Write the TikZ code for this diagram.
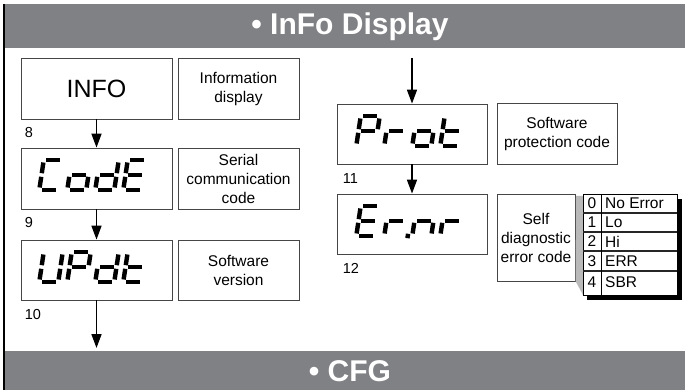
\documentclass[tikz,border=0pt]{standalone}
\usepackage{fontspec}
\setmainfont{Liberation Sans}
\usetikzlibrary{arrows.meta}
\definecolor{bandgray}{RGB}{128,129,133}
\definecolor{boxline}{RGB}{70,70,70}

% one slanted seven-segment character: centre x, centre y, list of segments
\newcommand{\segchar}[3]{%
  \begin{scope}[shift={({#1},{#2})}, xslant=0.15]
    \coordinate (a1) at (-7,-15);    \coordinate (a2) at (7,-15);
    \coordinate (b1) at (9.5,-12.5); \coordinate (b2) at (9.5,-1.8);
    \coordinate (c1) at (9.5,1.8);   \coordinate (c2) at (9.5,12.5);
    \coordinate (d1) at (-7,15);     \coordinate (d2) at (7,15);
    \coordinate (e1) at (-9.5,1.8);  \coordinate (e2) at (-9.5,12.5);
    \coordinate (f1) at (-9.5,-12.5);\coordinate (f2) at (-9.5,-1.8);
    \coordinate (g1) at (-7,0);      \coordinate (g2) at (7,0);
    \coordinate (p1) at (14,12.8);   \coordinate (p2) at (14,17.2);
    \edef\seglist{#3}
    \foreach \s in \seglist \draw[seg] (\s1) -- (\s2);
  \end{scope}}

\begin{document}
\begin{tikzpicture}[x=1pt,y=-1pt,
  box/.style={draw=boxline, line width=0.8pt, inner sep=1pt},
  dispbox/.style={box, minimum width=151pt, minimum height=61pt, font=\fontsize{25}{30}\selectfont},
  descbox/.style={box, minimum height=61pt, align=center, font=\fontsize{15.5}{19}\selectfont},
  numlabel/.style={anchor=west, inner sep=0pt, font=\fontsize{14.5}{17}\selectfont},
  flow/.style={-{Triangle[length=14pt,width=10pt]}, line width=1.6pt},
  seg/.style={line width=4.4pt, line cap=butt},
  bandtext/.style={text=white, font=\fontsize{30}{34}\selectfont\bfseries},
  tabtext/.style={inner sep=0pt, font=\fontsize{15.5}{18}\selectfont}]
\useasboundingbox (0,0) rectangle (685,390);

% bands and side rule
\fill[bandgray] (5,4) rectangle (685,48);
\fill[bandgray] (5,351) rectangle (685,390);
\draw[line width=2pt] (3.5,4) -- (3.5,390);
\node[bandtext] (title) at (350,27) {• InFo Display};
\node[bandtext] (cfg) at (350,371) {• CFG};

% left column
\node[dispbox] (info) at (96.5,88.5) {INFO};
\node[descbox, minimum width=121pt] (infotxt) at (238.5,88.5) {Information\\display};
\node[dispbox] (code) at (96.5,178.5) {};
\node[descbox, minimum width=121pt] (codetxt) at (238.5,178.5) {Serial\\communication\\code};
\node[dispbox, minimum height=60pt] (updt) at (96.5,270) {};
\node[descbox, minimum width=121pt, minimum height=60pt] (updttxt) at (238.5,270) {Software\\version};

\node[numlabel] (n8) at ([xshift=4pt,yshift=-13pt]info.south west) {8};
\node[numlabel] (n9) at ([xshift=4pt,yshift=-13pt]code.south west) {9};
\node[numlabel] (n10) at ([xshift=4pt,yshift=-14pt]updt.south west) {10};

\coordinate (cfgin) at (96.5,348);
\draw[flow] (info) -- (code);
\draw[flow] (code) -- (updt);
\draw[flow] (updt) -- (cfgin);

% right column
\node[dispbox, minimum width=150pt, minimum height=60pt] (prot) at (412,134) {};
\node[descbox, minimum width=120pt] (prottxt) at (557,134) {Software\\protection code};
\node[dispbox, minimum width=150pt, minimum height=60pt] (ernr) at (412,224) {};
\node[descbox, minimum width=78pt, minimum height=87pt] (ernrtxt) at (536,237.5) {Self\\diagnostic\\error code};

\node[numlabel] (n11) at ([xshift=6pt,yshift=-14pt]prot.south west) {11};
\node[numlabel] (n12) at ([xshift=6pt,yshift=-14pt]ernr.south west) {12};

\coordinate (protin) at (412,58);
\draw[flow] (protin) -- (prot);
\draw[flow] (prot) -- (ernr);

% seven-segment words
\foreach \segs [count=\i] in {{a,d,e,f},{c,d,e,g},{b,c,d,e,g},{a,d,e,f,g}}
  \segchar{93+(\i-2.5)*28}{175}{\segs};
\foreach \segs [count=\i] in {{b,c,d,e,f},{a,b,e,f,g},{b,c,d,e,g},{d,e,f,g}}
  \segchar{93+(\i-2.5)*28}{267}{\segs};
\foreach \segs [count=\i] in {{a,b,e,f,g},{e,g},{c,d,e,g},{d,e,f,g}}
  \segchar{410+(\i-2.5)*28}{131}{\segs};
\foreach \segs [count=\i] in {{a,d,e,f,g},{e,g,p},{c,e,g},{e,g}}
  \segchar{410+(\i-2.5)*28}{221}{\segs};

% error table
\fill[gray!55] (576,196) -- (583,196) -- (583,295) -- (575.5,281) -- cycle;
\fill[black] (587,295) rectangle (682,299.5);
\fill[black] (677,199) rectangle (682,299.5);
\draw[fill=white, line width=0.8pt] (583,194) rectangle (677,295);
\foreach \y in {213,232,251,271}
  \draw[line width=1.3pt, black!85] (583,\y) -- (677,\y);
\draw[line width=0.8pt] (601,194) -- (601,295);
\foreach \k/\t/\y in {0/No Error/203.5, 1/Lo/222.5, 2/Hi/241.5, 3/ERR/261, 4/SBR/282} {
  \node[tabtext] (k\k) at (592,\y) {\k};
  \node[tabtext, anchor=west] (e\k) at (605,\y) {\t};
}
\end{tikzpicture}
\end{document}
